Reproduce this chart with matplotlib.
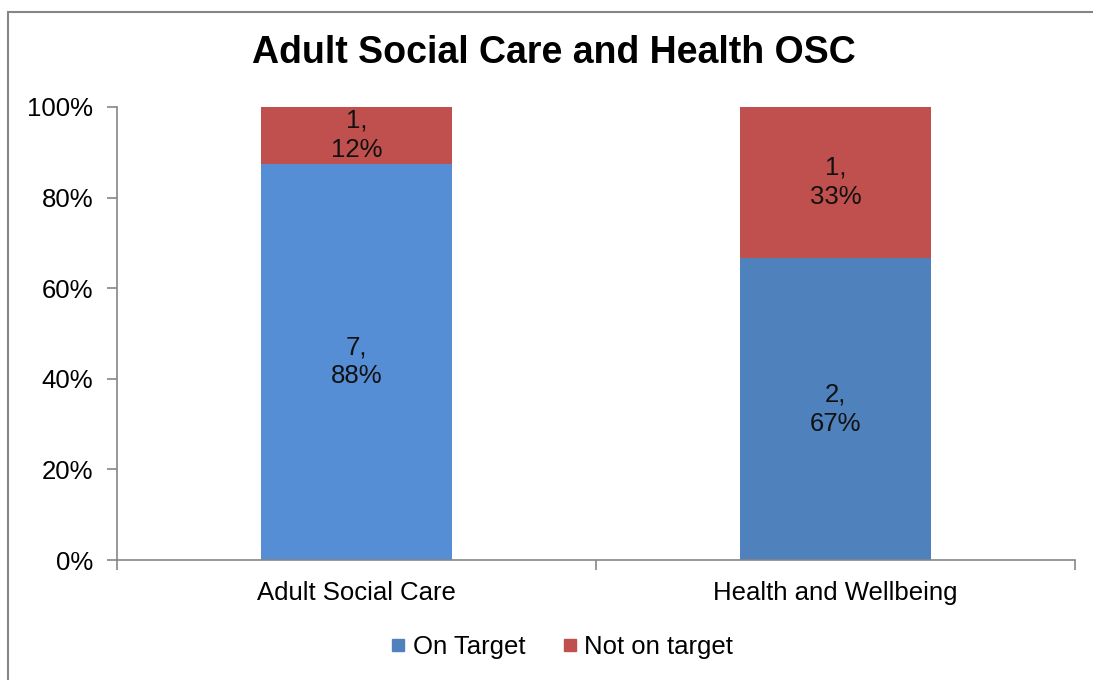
import matplotlib
matplotlib.use("Agg")
import matplotlib.pyplot as plt
from matplotlib.patches import Rectangle
from matplotlib.lines import Line2D
import numpy as np

categories = ["Adult Social Care", "Health and Wellbeing"]
on_target = [7, 2]
not_on_target = [1, 1]
on_pct_labels = [88, 67]
off_pct_labels = [12, 33]
series_names = ["On Target", "Not on target"]
title = "Adult Social Care and Health OSC"

plt.rcParams['font.family'] = ['Liberation Sans', 'DejaVu Sans']

FS = 18.5

fig = plt.figure(figsize=(10.93, 6.80), dpi=100)
fig.patch.set_facecolor("white")
# outer chart frame (extends past right/bottom edges)
fig.patches.append(Rectangle((8/1093, -0.1), 1.2, (680-12)/680 + 0.1, transform=fig.transFigure,
                             fill=False, edgecolor="#868686", linewidth=1.5))

ax = fig.add_axes([117/1093, 120/680, (1075-117)/1093, (560-107)/680])

on = np.array(on_target, dtype=float)
off = np.array(not_on_target, dtype=float)
tot = on + off
on_f = on / tot
off_f = off / tot
x = np.arange(len(categories))
width = 0.4

blue_colors = ["#558ED5", "#4F81BD"]
red = "#C0504D"
ax.bar(x, on_f, width, color=blue_colors, label=series_names[0])
ax.bar(x, off_f, width, bottom=on_f, color=red, label=series_names[1])

for i in range(len(categories)):
    ax.text(x[i], on_f[i] / 2, f"{on_target[i]},\n{on_pct_labels[i]}%", ha="center", va="center",
            fontsize=FS, color="#111111", linespacing=1.27)
    ax.text(x[i], on_f[i] + off_f[i] / 2, f"{not_on_target[i]},\n{off_pct_labels[i]}%", ha="center",
            va="center", fontsize=FS, color="#111111", linespacing=1.27)

ax.set_xlim(-0.5, len(categories) - 0.5)
ax.set_ylim(0, 1)
ax.set_yticks(np.linspace(0, 1, 6))
ax.set_yticklabels([f"{int(v)}%" for v in np.linspace(0, 100, 6)], fontsize=FS)
ax.set_xticks(x)
ax.set_xticklabels(categories, fontsize=FS)
ax.tick_params(axis="x", length=0, pad=15)
ax.set_xticks(np.arange(-0.5, len(categories)), minor=True)
ax.tick_params(axis="x", which="minor", length=7, color="#868686", width=1.2)
ax.tick_params(axis="y", length=7, color="#868686", width=1.2, pad=10)
for s in ["top", "right"]:
    ax.spines[s].set_visible(False)
for s in ["left", "bottom"]:
    ax.spines[s].set_color("#868686")
    ax.spines[s].set_linewidth(1.2)

fig.text(554/1093, 1 - 53/680, title, ha="center", va="center", fontsize=27, fontweight="bold")

handles = [Line2D([], [], marker="s", linestyle="none", markersize=9, color="#4F81BD"),
           Line2D([], [], marker="s", linestyle="none", markersize=9, color=red)]
fig.legend(handles, series_names, loc="center", bbox_to_anchor=(560/1093, 1 - 647/680), ncol=2,
           frameon=False, fontsize=FS, handletextpad=0.1, columnspacing=1.3, handlelength=0.9)

fig.savefig("out.png", dpi=100)
